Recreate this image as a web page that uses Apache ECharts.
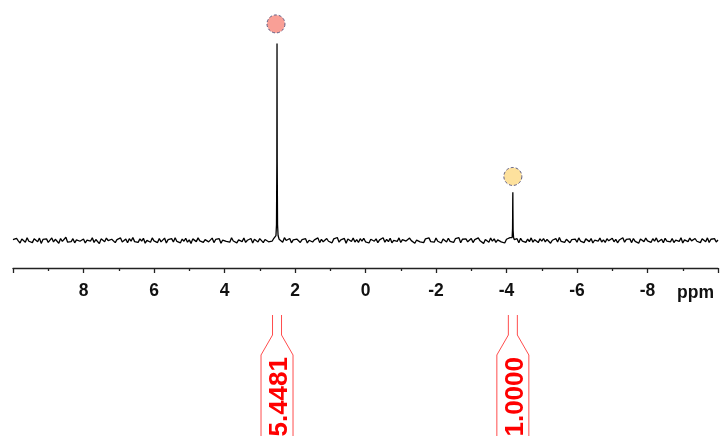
<!DOCTYPE html>
<html>
<head>
<meta charset="utf-8">
<script src="https://cdn.jsdelivr.net/npm/echarts@6/dist/echarts.min.js"></script>
<style>
  html, body { margin: 0; padding: 0; background: #fff; }
  #chart { width: 721px; height: 436px; }
</style>
</head>
<body>
<div id="chart"></div>
<script>
// Chemical shift range and tick labels (ppm)
const shiftMin = -10;
const shiftMax = 10;
const shiftStep = 0.05;
const tickLabels = ['8', '6', '4', '2', '0', '-2', '-4', '-6', '-8'];

// Baseline noise, one value per 0.05 ppm from 10 down to -10
const baselineNoise = [
  0.4,-0.6,1.1,-0.2,-1.3,0.7,0.1,-0.9,1.4,-0.4,0.3,-1.1,0.9,0.0,-0.7,1.2,-1.5,0.5,-0.3,0.8,
  -1.0,0.2,1.3,-0.8,0.6,-0.1,-1.4,1.0,-0.5,0.4,1.6,-0.9,0.1,-0.6,0.9,-1.2,0.3,1.1,-0.4,-0.8,
  0.7,-1.3,0.2,0.9,-0.3,1.4,-1.0,0.5,-0.2,-1.6,0.8,0.3,-0.7,1.2,-0.1,-0.9,0.6,1.0,-1.1,0.4,
  -0.5,1.3,-0.8,0.1,0.7,-1.2,0.9,-0.4,1.5,-0.6,0.2,-1.0,0.8,-0.3,1.1,-1.4,0.0,0.6,-0.9,1.3,
  -0.2,0.5,-1.1,1.0,-0.7,0.3,1.2,-1.3,0.4,-0.1,0.9,-0.8,1.4,-0.5,0.2,-1.2,0.7,-0.4,1.1,-0.9,
  0.3,-1.5,0.8,0.1,-0.6,1.3,-0.2,0.6,-1.0,0.4,1.0,-0.7,-0.1,1.2,-1.1,0.5,-0.3,0.9,-1.4,0.2,
  1.1,-0.5,0.0,-0.9,1.4,-0.3,0.7,-1.2,0.3,0.8,-0.6,1.2,-1.0,0.1,-0.4,1.0,-1.3,0.6,0.2,-0.8,
  0.9,-0.1,-1.1,0.5,1.3,-0.7,0.2,-0.4,1.1,-1.5,0.6,-0.2,0.8,-0.9,1.4,0.0,-0.6,1.0,-1.2,0.3,
  -0.3,0.7,1.2,-1.0,0.4,-0.5,0.9,-1.3,0.1,1.1,-0.8,0.3,-0.2,1.3,-1.1,0.6,-0.7,0.2,1.0,-0.4,
  0.5,-1.2,0.8,-0.1,1.5,-0.9,0.3,-0.6,1.0,-1.4,0.7,0.1,-0.5,1.2,-0.8,0.4,-1.0,0.9,-0.3,1.1,
  -0.7,0.2,-1.3,0.6,1.0,-0.4,0.8,-1.1,0.3,-0.2,1.4,-0.9,0.5,-0.6,1.1,-1.2,0.0,0.7,-0.5,1.3,
  -1.0,0.4,0.9,-0.3,-0.8,1.2,-0.1,0.6,-1.4,0.2,1.0,-0.7,0.3,-1.1,0.8,-0.2,1.3,-0.6,0.1,-0.9,
  1.2,-0.4,0.5,-1.3,0.7,0.2,-0.8,1.1,-0.5,0.3,-1.0,0.9,-0.1,1.4,-1.2,0.6,-0.3,0.8,-0.7,0.0,
  1.0,-1.1,0.4,-0.6,1.3,-0.2,0.7,-1.5,0.5,0.1,-0.9,1.2,-0.4,0.8,-1.0,0.3,1.1,-0.7,0.2,-1.3,
  0.6,-0.1,1.4,-0.8,0.3,-0.5,0.9,-1.2,1.1,-0.3,0.2,-1.0,0.7,-0.6,1.3,-0.9,0.4,0.0,-1.1,0.8,
  -0.4,1.0,-0.7,0.5,1.2,-1.4,0.1,-0.2,0.9,-0.8,1.5,-0.5,0.3,-1.0,0.6,1.1,-1.2,0.4,-0.1,0.7,
  -0.9,1.3,-0.3,0.2,-1.1,0.8,0.5,-0.6,1.0,-1.3,0.1,0.7,-0.4,1.2,-0.8,0.3,-1.0,0.9,-0.2,0.4,
  1.1,-0.7,0.6,-1.2,0.2,-0.3,1.4,-0.9,0.5,-0.1,0.8,-1.1,1.0,-0.5,0.3,-1.4,0.7,0.1,-0.6,1.2,
  -0.2,0.5,-1.0,0.9,-0.4,1.3,-0.8,0.0,0.6,-1.2,1.1,-0.3,0.4,-0.7,1.0,-1.1,0.2,0.8,-0.5,1.4,
  -1.3,0.3,0.7,-0.6,1.2,-0.2,-0.9,1.0,-0.4,0.5,-1.1,0.8,0.1,-0.7,1.3,-1.0,0.6,-0.3,0.9,-0.8,
  0.2
];

// Signal profiles: [shift (ppm), intensity]
const peakA = [[2.57,0.8],[2.54,2.5],[2.525,8],[2.515,40],[2.51,100],[2.505,40],[2.495,8],[2.48,2.5],[2.45,0.6]];
const peakB = [[-4.14,0.5],[-4.16,1.5],[-4.172,6],[-4.177,20],[-4.18,24.5],[-4.183,15],[-4.188,5],[-4.2,1.5],[-4.22,0.4]];
const peakWindows = [[2.445, 2.575], [-4.225, -4.135]];

// Signal markers above each peak
const markerShifts = [2.54, -4.18];
const markerHeights = [110, 32.5];
const markerColors = ['#F7877C', '#FCD985'];

// Integrals
const integralShifts = [2.51, -4.18];
const integralValues = ['5.4481', '1.0000'];

// Assemble the spectrum trace
const spectrum = [];
baselineNoise.forEach((v, i) => {
  const x = +(shiftMax - i * shiftStep).toFixed(3);
  const inPeak = peakWindows.some(w => x >= w[0] && x <= w[1]);
  if (!inPeak) spectrum.push([x, v]);
});
peakA.concat(peakB).forEach(p => spectrum.push(p));
spectrum.sort((a, b) => b[0] - a[0]);

const chart = echarts.init(document.getElementById('chart'), null, { renderer: 'canvas' });

const option = {
  animation: false,
  backgroundColor: '#ffffff',
  grid: { left: 13, right: 3, top: 20, bottom: 168, containLabel: false },
  xAxis: {
    type: 'value',
    inverse: true,
    min: shiftMin,
    max: shiftMax,
    interval: 2,
    position: 'bottom',
    axisLine: { show: true, onZero: false, lineStyle: { color: '#222', width: 1.3 } },
    axisTick: { show: true, length: 5, lineStyle: { color: '#222', width: 1.3 } },
    minorTick: { show: true, splitNumber: 2, length: 3, lineStyle: { color: '#222', width: 1.3 } },
    splitLine: { show: false },
    axisLabel: {
      margin: 14,
      color: '#111',
      fontFamily: 'Liberation Sans, Arial, sans-serif',
      fontWeight: 'bold',
      fontSize: 17.5,
      formatter: function (v) {
        const s = String(Math.round(v));
        return tickLabels.indexOf(s) >= 0 ? s : '';
      }
    }
  },
  yAxis: {
    type: 'value',
    min: -14,
    max: 112,
    show: false
  },
  graphic: [
    {
      type: 'text',
      left: 677,
      top: 284,
      style: {
        text: 'ppm',
        fill: '#111',
        font: 'bold 17.5px "Liberation Sans", Arial, sans-serif'
      }
    }
  ],
  series: [
    {
      name: 'spectrum',
      type: 'line',
      data: spectrum,
      showSymbol: false,
      symbol: 'none',
      lineStyle: { color: '#000', width: 1.3 },
      z: 3
    },
    {
      name: 'markers',
      type: 'scatter',
      data: markerShifts.map((s, i) => ({
        value: [s, markerHeights[i]],
        itemStyle: { color: markerColors[i] }
      })),
      symbol: 'circle',
      symbolSize: 18,
      itemStyle: { borderColor: '#3b3b6b', borderWidth: 1, borderType: [3, 2] },
      z: 4
    },
    {
      name: 'integrals',
      type: 'custom',
      clip: false,
      data: integralShifts.map((s, i) => [s, 0, integralValues[i]]),
      renderItem: function (params, api) {
        const x = api.coord([api.value(0), 0])[0];
        const label = integralValues[params.dataIndex];
        const lineStyle = { stroke: '#ff4d4d', lineWidth: 1, fill: null };
        return {
          type: 'group',
          children: [
            { type: 'polyline', shape: { points: [[x - 4.5, 315], [x - 4.5, 335], [x - 16, 355], [x - 16, 440]] }, style: lineStyle },
            { type: 'polyline', shape: { points: [[x + 4.5, 315], [x + 4.5, 335], [x + 16, 355], [x + 16, 440]] }, style: lineStyle },
            {
              type: 'text',
              x: x + 3,
              y: 357,
              rotation: Math.PI / 2,
              style: {
                text: label,
                fill: '#ff0000',
                font: 'bold 26px "Liberation Sans", Arial, sans-serif',
                align: 'right',
                verticalAlign: 'middle'
              }
            }
          ]
        };
      },
      z: 5
    }
  ]
};

chart.setOption(option);
</script>
</body>
</html>
